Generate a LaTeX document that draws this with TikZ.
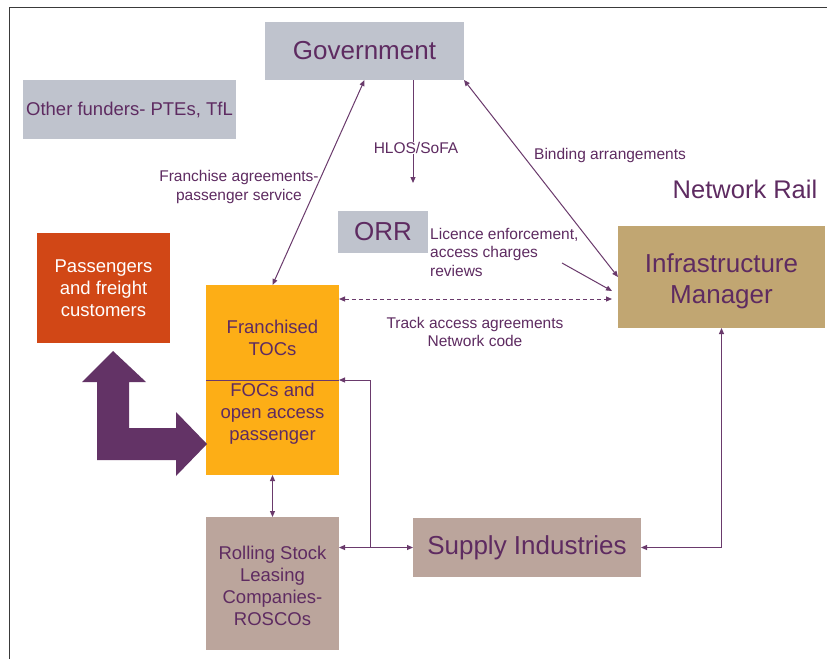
\documentclass[tikz,border=0pt]{standalone}
\usepackage{fontspec}
\setmainfont{Liberation Sans}
\usetikzlibrary{arrows.meta,calc}
\definecolor{govgray}{HTML}{BFC3CD}
\definecolor{paxred}{HTML}{D14716}
\definecolor{tocorange}{HTML}{FDAE16}
\definecolor{imtan}{HTML}{C1A672}
\definecolor{supbrown}{HTML}{BBA59C}
\definecolor{txtpurple}{HTML}{5E2B61}
\definecolor{linepurple}{HTML}{6A3A6C}
\definecolor{bigpurple}{HTML}{633366}
\definecolor{framegray}{HTML}{3A3A3A}
\tikzset{
  box/.style={inner sep=0pt, outer sep=0pt, text=txtpurple, align=center},
  bigtext/.style={font=\fontsize{26}{31}\selectfont},
  midtext/.style={font=\fontsize{18.5}{21.8}\selectfont},
  smalltext/.style={font=\fontsize{15.5}{18.5}\selectfont, text=txtpurple, inner sep=0pt},
  conn/.style={draw=linepurple, line width=1pt, -{Triangle[length=6pt,width=5pt]}},
  dbl/.style={draw=linepurple, line width=1pt, {Triangle[length=6pt,width=5pt]}-{Triangle[length=6pt,width=5pt]}},
  plain/.style={draw=linepurple, line width=1pt}
}
\begin{document}
\begin{tikzpicture}[x=1pt,y=-1pt]
\useasboundingbox (0,0) rectangle (827,659);
\fill[white] (0,0) rectangle (827,659);
% outer frame (left and top edges)
\draw[framegray, line width=1.5pt] (9.5,659) -- (9.5,7.5) -- (827,7.5);

% boxes
\node[box, bigtext, fill=govgray, minimum width=199pt, minimum height=58pt] (gov) at (364.5,51) {Government};
\node[box, fill=govgray, minimum width=213pt, minimum height=59pt, font=\fontsize{18.5}{22}\selectfont] (funders) at (129.5,109.5) {Other funders- PTEs, TfL};
\node[box, bigtext, fill=govgray, minimum width=90pt, minimum height=42pt] (orr) at (383,232) {ORR};
\node[box, midtext, fill=paxred, text=white, minimum width=133pt, minimum height=110pt] (pax) at (103.5,288) {Passengers\\and freight\\customers};
\node[box, fill=tocorange, minimum width=133pt, minimum height=190pt] (tocs) at (272.5,380) {};
\node[box, midtext] (tocsA) at (272.5,338) {Franchised\\TOCs};
\node[box, midtext] (tocsB) at (272.5,414) {FOCs and\\open access\\passenger};
\node[box, fill=imtan, minimum width=207pt, minimum height=102pt] (im) at (721.5,277) {};
\node[box, bigtext] (imtext) at (721.5,281) {Infrastructure\\Manager};
\node[box, midtext, fill=supbrown, minimum width=133pt, minimum height=133pt] (rosco) at (272.5,583.5) {};
\node[box, midtext] (roscotext) at (272.5,586) {Rolling Stock\\Leasing\\Companies-\\ROSCOs};
\node[box, bigtext, fill=supbrown, minimum width=228pt, minimum height=59pt] (supply) at (527,547.5) {Supply Industries};
\node[box, font=\fontsize{25.5}{30}\selectfont] (nr) at (745,189) {Network Rail};

% divider inside the operators box
\draw[plain] (tocs.west) -- (tocs.east);

% two-way customer arrow
\fill[bigpurple] (113,351) -- (146,382) -- (129,382) -- (129,428) -- (176,428) -- (176,412)
  -- (207,444) -- (176,476) -- (176,460) -- (97,460) -- (97,382) -- (82,382) -- cycle;

% labels
\node[smalltext, align=center] (franlbl) at (239,187) {Franchise agreements-\\passenger service};
\node[smalltext] (hlos) at (416,148) {HLOS/SoFA};
\node[smalltext, anchor=west] (bindlbl) at (534,155) {Binding arrangements};
\node[smalltext, align=left, anchor=north west] (liclbl) at (430,228) {Licence enforcement,\\access charges\\reviews};
\node[smalltext, align=center] (tracklbl) at (475,332) {Track access agreements\\Network code};

% connectors
\draw[dbl] (tocs.north) -- (gov.south);
\coordinate (hlosTop) at (413,80);
\coordinate (hlosEnd) at (413,183);
\draw[plain] (hlosTop) -- (hlosTop |- hlos.north);
\draw[conn] (hlosEnd |- hlos.south) -- (hlosEnd);
\draw[dbl] (gov.south east) -- (im.west);
\coordinate (licStart) at (562,263);
\draw[conn] (licStart) -- ($(im.west)+(-6,14)$);
\coordinate (trackEnd) at ($(im.west)+(-6,22)$);
\draw[dbl, dashed, dash pattern=on 4pt off 3pt] (tocs.east |- trackEnd) -- (trackEnd);
\draw[dbl] (tocs.south) -- (rosco.north);
\draw[dbl] (rosco.east |- supply.west) -- (supply.west);
\coordinate (junction) at (370,547.5);
\draw[conn] (junction) |- (tocs.east);
\draw[dbl] (supply.east) -| (im.south);
\end{tikzpicture}
\end{document}
